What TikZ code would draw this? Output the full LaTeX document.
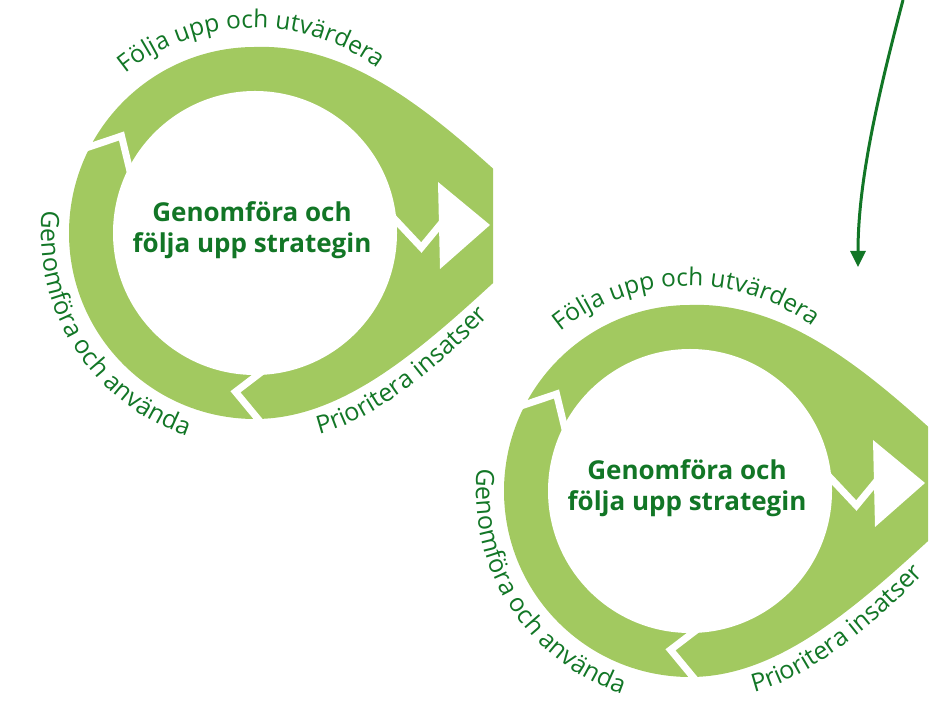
\documentclass[tikz,border=0pt]{standalone}
\usepackage{fontspec}
\setmainfont{Open Sans}
\usetikzlibrary{arrows.meta,decorations.text}
\definecolor{ringgreen}{RGB}{162,201,96}
\definecolor{textgreen}{RGB}{18,118,38}
\newcommand\ringfont[1][25]{\color{textgreen}\fontsize{#1}{#1}\selectfont}
\tikzset{cut/.style={white,line width=7pt,line join=miter},
 ringlabel/.style={decorate,decoration={text along path,text={#1}}},
 centretext/.style={font=\bfseries\fontsize{26}{31}\selectfont,text=textgreen,align=center},
 flow/.style={-{Triangle[width=15pt,length=16pt]},line width=3pt,textgreen},
 cycle/.pic={
  \clip (-260,-260) rectangle (238,260);
  \fill[ringgreen] (0,186) arc[start angle=90,end angle=270,radius=186]
   .. controls (105,-186) and (195,-88) .. (300,7)
   .. controls (200,100) and (110,190) .. (0,186) -- cycle;
  \fill[white] (0,0) circle[radius=142];
  \draw[cut] (155:195) -- (144:165) -- (156:135);
  \draw[cut] (-81:130) -- (-97:160) -- (-87:195);
  \draw[cut] (10:133) -- (-5:167) -- (7:200);
  \fill[white] (183,51) -- (235,8) -- (185,-36) -- cycle;
  \node[centretext] (-title) at (-3,3) {Genomföra och\\följa upp strategin};
  \path[ringlabel={|\ringfont[24.5]|Följa upp och utvärdera}] (129:205) arc[start angle=129,end angle=20,radius=205];
  \path[ringlabel={|\ringfont|Genomföra och använda}] (174:214) arc[start angle=174,end angle=280,radius=214];
  \path[ringlabel={|\ringfont|Prioritera insatser}] (64,-201) .. controls (112,-190) and (190,-140) .. (290,-20);
 }}

\begin{document}
\begin{tikzpicture}[x=1pt,y=1pt]
\useasboundingbox (0,0) rectangle (949,706);
\pic (top) at (255,473) {cycle};
\pic (low) at (690,215) {cycle};
\coordinate (flowstart) at (903,706);
\coordinate (flowend) at (858,439);
\draw[flow] (flowstart) .. controls (875,600) and (858,520) .. (flowend);
\end{tikzpicture}
\end{document}
